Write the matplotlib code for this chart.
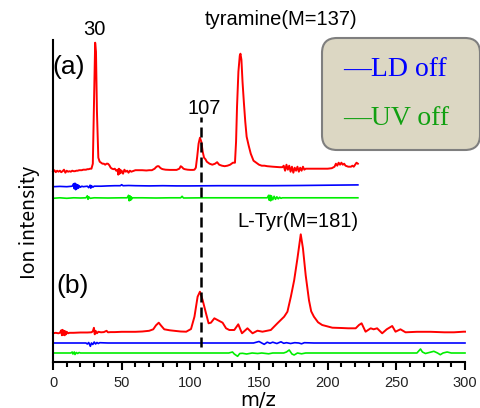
import matplotlib
matplotlib.use("Agg")
import matplotlib.pyplot as plt
from matplotlib.patches import FancyBboxPatch
import numpy as np

# ---------------- data: (m/z, relative ion intensity) pairs ----------------
# (a) tyramine
red_a = [(0, 0), (1, 1.5), (2, -0.5), (3, 1), (4, 0), (5, 1), (6, -0.5), (7, 0.5), (8, 2),
         (9, -1), (10, 1), (11, 0), (12, 0.5), (13, 0), (14, 1), (15, 0.5), (16, 0.5),
         (17, 1), (18, 1), (19, 1.5), (20, 1.5), (21, 1.5), (22, 2), (23, 2), (24, 2),
         (25, 2.5), (26, 2.5), (27, 3), (28, 3), (29, 8), (30, 80), (30.7, 129),
         (31.3, 120), (32, 60), (33, 14), (34, 10), (35, 9), (36, 8), (37, 8), (38, 7),
         (39, 8), (40, 8), (41, 6.5), (42, 4), (43, 3), (44, 2.5), (45, 3), (46, 1),
         (47, 2), (47.5, -3), (48, 3), (48.5, -2), (49, 2), (49.5, -1), (50, 1), (51, -2),
         (52, 2), (53, 0), (54, 1), (55, -1), (56, 1), (57, 0), (60, 1.5), (62, 1.5),
         (65, 1.5), (68, 1.2), (70, 1.5), (72, 1.5), (74, 3), (75, 4.5), (76, 5.5),
         (77, 5.5), (78, 4), (79, 3), (80, 2.5), (82, 2), (85, 1.8), (88, 1.8), (90, 1.8),
         (92, 3), (93, 5.5), (94, 4.5), (95, 3), (96, 2.5), (98, 2), (100, 1.8),
         (102, 1.8), (103, 2), (104, 4), (105, 15), (106, 28), (107, 34), (108, 30),
         (109, 20), (110, 14), (111, 12.5), (112, 10), (114, 8), (116, 7), (118, 8),
         (119.5, 9.5), (121, 7), (123, 6), (125, 5.5), (127, 6), (129, 7), (130, 8),
         (131, 9), (132.5, 9), (133.3, 30), (134, 65), (135, 100), (136, 116),
         (136.5, 118), (137.2, 112), (138, 90), (139, 69), (140, 50), (141, 35),
         (142.5, 26), (144, 18), (146, 11), (148, 9), (150, 7), (152, 6), (154, 6),
         (156, 5.5), (160, 5), (165, 4.5), (167, 4.5), (168, 6), (169, 1), (170, 7),
         (171, 2), (172, 6), (173, 0), (174, 5), (175, -1), (176, 4), (177, 1), (178, 5),
         (179, 0), (180, 4), (181, 1), (182, 5), (183, 2), (184, 3), (185, 3), (186, 3),
         (190, 3), (195, 3), (200, 3), (203, 3.5), (205, 5), (206, 8), (207, 6), (208, 9),
         (209, 7), (210, 9), (211, 7), (212, 8), (213, 6), (215, 5), (217, 5), (218, 6),
         (219, 5), (220, 7), (221, 9), (222, 8)]

blue_a = [(0, 0), (5, 0.3), (10, 0), (14, 0.5), (15, 3), (15.5, -2), (16, 3.5), (16.5, -3),
          (17, 2.5), (17.5, -2), (18, 2), (18.5, -1.5), (19, 1), (20, -0.5), (21, 0.5),
          (22, 0), (25, 0.5), (26, -1), (27, 1.5), (27.5, -1.5), (28, 1), (29, -0.5),
          (30, 0.5), (35, 0.5), (40, 0.8), (45, 1), (49, 1), (50, 2), (51, 1), (55, 1.2),
          (60, 1), (70, 0.8), (80, 1), (90, 0.8), (100, 0.8), (120, 1), (140, 1),
          (160, 1), (180, 1.2), (200, 1.5), (222, 1.8)]

green_a = [(0, 0), (5, 0.5), (10, 0), (15, 0.5), (20, 0.3), (24, 0.5), (25, 2.5),
           (25.5, -1), (26, 1.5), (27, 0), (30, 0.5), (40, 0.3), (50, 0.5), (54, 0.5),
           (55, 3), (55.5, -2.5), (56, 2.5), (56.5, -2), (57, 1.5), (57.5, -0.5), (58, 0.5),
           (65, 0.5), (75, 0.3), (85, 0.5), (93, 0.5), (94, 2), (95, 0.3), (110, 0.5),
           (130, 0.5), (150, 0.5), (156, 0.5), (157, 3), (157.5, -2), (158, 3),
           (158.5, -2.5), (159, 2.5), (160, -1.5), (161, 2), (162, -1), (163, 1.5),
           (164, -0.5), (165, 1), (166, 0), (167, 0.5), (180, 0.5), (200, 0.5), (222, 0.5)]

# (b) L-Tyr
red_b = [(0, 0), (2, 0.5), (4, 0), (5, 0.5), (6, 3), (6.5, -2), (7, 3.5), (7.5, -1.5),
         (8, 2.5), (8.5, -2), (9, 2), (9.5, -1), (10, 1.5), (11, 0), (12, 0.5), (15, 0.5),
         (20, 0.8), (25, 0.8), (28, 1), (29, 2), (29.8, 5.5), (30.4, -1), (31, 2.5),
         (32, 0), (33, 1.5), (35, 1), (37, 1.2), (39, 2.5), (40, 1), (42, 1.2), (45, 1.2),
         (50, 1.5), (55, 1.5), (60, 1.5), (65, 1.8), (70, 2.5), (73, 4), (75, 8),
         (77, 10.6), (78.5, 8), (81, 4), (85, 3), (89.6, 2.3), (93, 1.8), (97, 1.6),
         (100.5, 4.3), (103, 16.6), (105.3, 36.6), (107, 41.6), (109, 33), (111.4, 20),
         (113.3, 10), (115, 10.6), (117.5, 15), (119.8, 13.3), (123.5, 10.6), (126, 5),
         (128.4, 3.3), (132, 3.3), (134.9, 9), (137.6, 0), (141.6, 5), (145.3, 0),
         (148.9, 2.6), (152.5, 1.6), (158.6, 3.3), (163.4, 10), (168.3, 16.6),
         (170.7, 21.6), (173.2, 36.6), (175.6, 53), (178, 75), (180.4, 99), (182, 85),
         (184, 58), (186.4, 33), (188, 22), (190, 16.6), (193, 11), (196, 8.3),
         (203.4, 5.6), (210, 5.3), (215, 5), (220.4, 5), (222.8, 8.3), (224.7, 10),
         (227.6, 1.6), (231.3, 5), (233.5, 4), (236, 5), (239.7, 0), (243, 4), (247, 7.3),
         (249.4, 1.6), (253, 4), (256.7, 1), (265, 1.5), (275, 1.5), (285, 1), (292, 1),
         (299, 1.6), (300, 1.6)]

blue_b = [(0, 0), (10, 0), (20, 0), (24, 0), (25, -1), (26, 0.5), (27.2, -3.3), (28, 0),
          (29, -1.5), (30, 1), (31, -1), (32, 0.5), (33, -0.5), (34, 0.3), (40, 0), (60, 0),
          (80, 0), (100, 0), (120, 0), (140, 0), (146, 0), (150, 1.5), (152, 0),
          (153.8, -1.3), (156, 0.8), (158, -0.3), (160, 0.8), (163, -0.5), (166, 1.2),
          (168, -0.3), (170, 0.3), (173, -0.5), (176, 0.3), (179, 0), (181, -0.8),
          (183, 0.3), (190, 0), (200, 0), (220, 0), (240, 0), (260, 0), (280, 0), (300, 0)]

green_b = [(0, 0), (8, 0), (13, 0), (14, 1), (14.5, -1), (15.5, 1), (16, -1.5), (17, 0.5),
           (18, -0.5), (19, 0.5), (20, 0), (40, 0), (60, 0), (80, 0), (100, 0), (120, 0),
           (128, 0), (130.7, 1), (132, -1), (134.4, -3.3), (136, -0.5), (138, -0.3),
           (141, -1), (145, 0), (149, -0.5), (152, 0), (157, -0.8), (160, 0), (168, 0),
           (170, 1), (172, 3), (174, -1), (175.6, -2), (178, 0), (181, -0.8), (184, 0),
           (200, 0), (220, 0), (240, 0), (260, 0), (265, 0), (267.6, 4), (269, 1),
           (271.2, -0.5), (274, 0.5), (277.3, 1.7), (280, 0), (282, -1.7), (284, 0),
           (287, 1), (290, 0), (300, 0)]

xticks = [0, 50, 100, 150, 200, 250, 300]
marker_mz = 108

# ---------------- layout ----------------
W, H = 481, 408
fig = plt.figure(figsize=(W / 100, H / 100), dpi=100)
ax = fig.add_axes([53 / W, (H - 362) / H, 412 / W, 322 / H])
ax.set_xlim(0, 300)
ax.set_ylim(0, 322)

RED, BLUE, GREEN = "#ff0000", "#0000ff", "#00ee00"
traces = [(red_a, 190.3, RED, 1.4), (blue_a, 175.3, BLUE, 1.2), (green_a, 163.7, GREEN, 1.2),
          (red_b, 28.7, RED, 1.4), (blue_b, 19.0, BLUE, 1.2), (green_b, 9.0, GREEN, 1.2)]
for data, offset, color, lw in traces:
    arr = np.array(data, dtype=float)
    ax.plot(arr[:, 0], arr[:, 1] + offset, color=color, lw=lw, clip_on=False)

dl, = ax.plot([marker_mz, marker_mz], [15.3, 245.3], color="black", lw=1.8)
dl.set_dashes([4, 2])

# spines / ticks
for s in ["top", "right"]:
    ax.spines[s].set_visible(False)
ax.spines["left"].set_linewidth(1.5)
ax.spines["bottom"].set_linewidth(1.5)
ax.set_yticks([])
ax.set_xticks(xticks)
ax.set_xticks(np.arange(0, 301, 10), minor=True)
ax.tick_params(axis="x", which="major", direction="out", length=6, width=1.5,
               pad=4, labelsize=10.5, labelcolor="#222222")
ax.tick_params(axis="x", which="minor", direction="out", length=3.5, width=1.5)
for lab in ax.get_xticklabels():
    lab.set_family(["Liberation Sans", "DejaVu Sans"])

fig.text(258 / W, 1 - 400 / H, "m/z", fontsize=14, family=["DejaVu Sans"],
         ha="center", va="center")
fig.text(30 / W, 1 - 222 / H, "Ion intensity", rotation=90, fontsize=14,
         family=["Noto Sans CJK JP", "DejaVu Sans"], ha="center", va="center")

sans = ["Liberation Sans", "DejaVu Sans"]
ax.text(30.3, 333, "30", fontsize=14.5, family=sans, ha="center", va="center")
ax.text(166, 343, "tyramine(M=137)", fontsize=14.5, family=sans, ha="center", va="center")
ax.text(11.4, 295, "(a)", fontsize=19, family=sans, ha="center", va="center")
ax.text(110, 254, "107", fontsize=14.5, family=sans, ha="center", va="center")
ax.text(178.5, 141, "L-Tyr(M=181)", fontsize=14.5, family=sans, ha="center", va="center")
ax.text(14.3, 76, "(b)", fontsize=19, family=sans, ha="center", va="center")

# legend box
box = FancyBboxPatch((322 / W, (H - 150) / H), (480 - 322) / W, 112 / H,
                     boxstyle="round,pad=0,rounding_size=%f" % (15 / W),
                     mutation_aspect=W / H, transform=fig.transFigure,
                     facecolor="#dcd7c3", edgecolor="#7f7f7f", lw=1.5)
fig.add_artist(box)
serif = ["Liberation Serif", "DejaVu Serif"]
fig.text(343 / W, 1 - 70 / H, "—LD off", color="#0000ff", fontsize=20, family=serif,
         ha="left", va="center")
fig.text(343 / W, 1 - 118 / H, "—UV off", color="#11a011", fontsize=20, family=serif,
         ha="left", va="center")

fig.savefig("out.png", dpi=100)
